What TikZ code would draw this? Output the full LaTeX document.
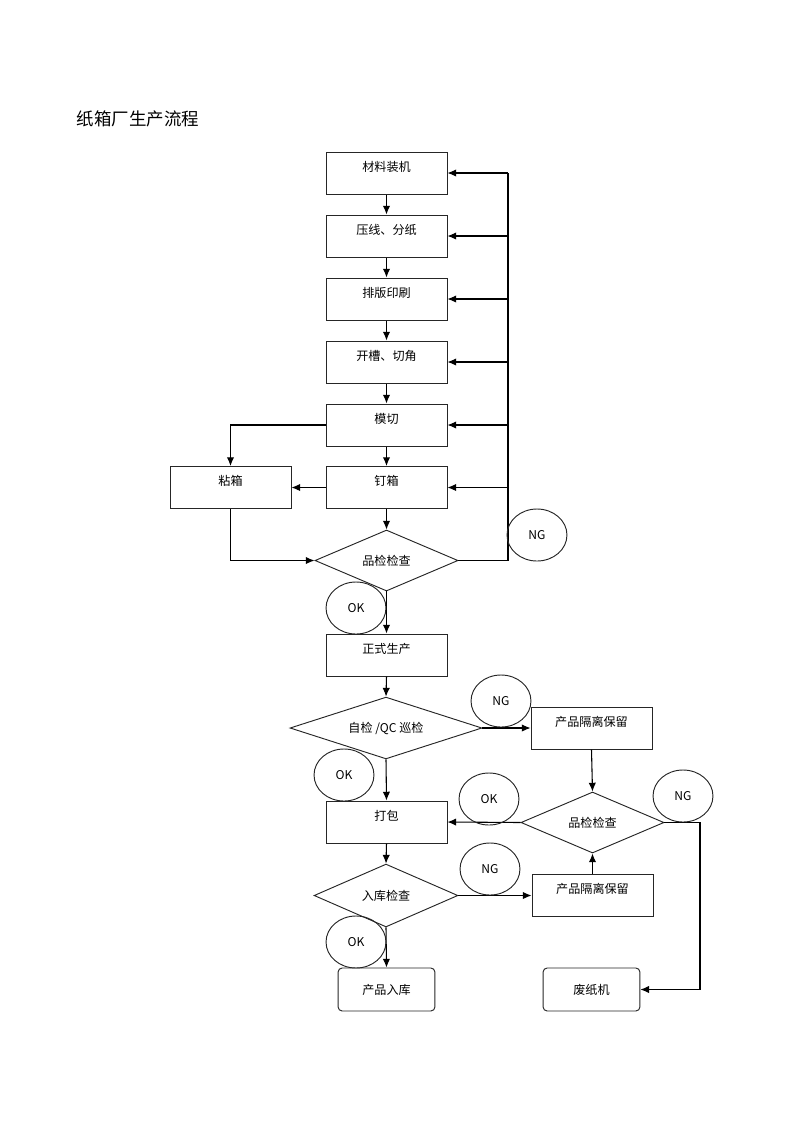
\documentclass[tikz,border=0pt]{standalone}
\usepackage{fontspec}
\setmainfont{Noto Sans CJK SC}
\usetikzlibrary{shapes.geometric,arrows.meta}
\tikzset{
  stepbox/.style={draw=black!85,line width=0.7pt,minimum width=90pt,minimum height=31.3pt,inner sep=0pt,text height=7pt,text depth=9.6pt,font=\fontsize{9}{11}\selectfont},
  endbox/.style={draw=black!85,line width=0.7pt,rounded corners=3pt,minimum width=72pt,minimum height=32pt,inner sep=0pt,font=\fontsize{9}{11}\selectfont},
  check/.style={draw=black!85,line width=0.7pt,diamond,shape aspect=3,inner sep=0pt,minimum width=106.4pt,minimum height=45.4pt,font=\fontsize{9}{11}\selectfont},
  verdict/.style={draw=black!85,line width=0.7pt,ellipse,inner sep=0pt,minimum width=44.6pt,minimum height=38.7pt,font=\fontsize{9}{11}\selectfont},
  flow/.style={line width=0.8pt,-{Latex[length=6.5pt,width=5.5pt]}},
  wire/.style={line width=0.8pt}
}

\begin{document}
\begin{tikzpicture}[x=0.744pt,y=-0.744pt]
      \useasboundingbox (0,0) rectangle (800,1133);
      \node[anchor=west,font=\fontsize{13}{15}\selectfont] (title) at (72,119) {纸箱厂生产流程};
      % trial run
      \node[stepbox] (load) at (386.5,173) {材料装机};
      \node[stepbox] (press) at (386.5,236) {压线、分纸};
      \node[stepbox] (print) at (386.5,299) {排版印刷};
      \node[stepbox] (slot) at (386.5,362) {开槽、切角};
      \node[stepbox] (diecut) at (386.5,425) {模切};
      \node[stepbox] (nail) at (386.5,487.5) {钉箱};
      \node[stepbox] (glue) at (230.5,487.5) {粘箱};
      \node[check] (qc1) at (386.5,560.5) {品检检查};
      \coordinate (ngline) at (508,0);
      \foreach \a/\b in {load/press,press/print,print/slot,slot/diecut,diecut/nail}
        \draw[flow] (\a) -- (\b);
      \draw[flow] (nail.south) -- (qc1.north);
      \draw[flow] (diecut.west) -| (glue.north);
      \draw[flow] (nail.west) -- (glue.east);
      \draw[flow] (glue.south) |- (qc1.west);
      \draw[wire] (qc1.east) -- (ngline |- qc1.east) -- (ngline |- load.east);
      \foreach \n in {load,press,print,slot,diecut,nail}
        \draw[flow] (ngline |- \n.east) -- (\n.east);
      \node[verdict] (ng1) at (537,535) {NG};
      \node[stepbox] (mass) at (386.5,655) {正式生产};
      \draw[flow] (qc1.south) -- (mass.north);
      \node[verdict] (ok1) at (356,608) {OK};
      % mass production
      \node[check,minimum width=142.8pt,minimum height=46pt] (qc2) at (386,728) {自检 /QC 巡检};
      \node[stepbox] (hold1) at (591.5,728) {产品隔离保留};
      \node[stepbox] (pack) at (386.5,822) {打包};
      \node[check] (qc3) at (592.5,822.5) {品检检查};
      \node[check,minimum width=107pt,minimum height=46.8pt] (qc4) at (386,895.5) {入库检查};
      \node[stepbox] (hold2) at (592.5,895.5) {产品隔离保留};
      \node[endbox] (store) at (386.5,989.5) {产品入库};
      \node[endbox] (scrap) at (591.5,989.5) {废纸机};
      \coordinate (scrapline) at (700,0);
      \draw[flow] (mass.south) -- (qc2.north);
      \draw[flow] (qc2.east) -- (hold1.west);
      \draw[flow] (qc2.south) -- (pack.north);
      \draw[flow] (hold1.south) -- (qc3.north);
      \draw[flow] (qc3.west) -- (pack.east);
      \draw[flow] (qc3.east) -- (scrapline |- qc3.east) |- (scrap.east);
      \draw[flow] (pack.south) -- (qc4.north);
      \draw[flow] (qc4.east) -- (hold2.west);
      \draw[flow] (hold2.north) -- (qc3.south);
      \draw[flow] (qc4.south) -- (store.north);
      \node[verdict] (ng2) at (501,701) {NG};
      \node[verdict] (ok2) at (344,775) {OK};
      \node[verdict] (ok3) at (489,799) {OK};
      \node[verdict] (ng3) at (683,796) {NG};
      \node[verdict] (ng4) at (490,869) {NG};
      \node[verdict] (ok4) at (356,942) {OK};
\end{tikzpicture}
\end{document}
